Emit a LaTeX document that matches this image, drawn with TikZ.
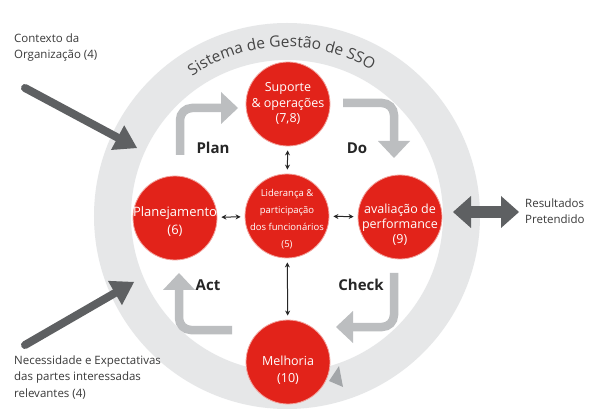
\documentclass[tikz,border=0pt]{standalone}
\usepackage{fontspec}
\setmainfont{Open Sans}
\usetikzlibrary{arrows.meta,decorations.text}
\definecolor{ringgray}{HTML}{E6E7E8}
\definecolor{pdcagray}{HTML}{BCBEC0}
\definecolor{darkarrow}{HTML}{5E6062}
\definecolor{ssored}{HTML}{E2231A}
\definecolor{ssorim}{HTML}{F2A29C}
\definecolor{tipgray}{HTML}{A3A6A9}
\definecolor{txtgray}{HTML}{3A3A3A}
\definecolor{titlegray}{HTML}{454545}
\tikzset{
  redc/.style={circle, fill=ssored, draw=ssorim, line width=0.8pt, minimum size=84pt, inner sep=0pt},
  ctext/.style={text=white, align=center, inner sep=0pt},
  pdca/.style={draw=pdcagray, line width=8.5pt, rounded corners=12pt, -{Triangle[length=17pt,width=32pt,line width=0pt]}},
  pdcalbl/.style={font=\bfseries\fontsize{15}{15}\selectfont, text=black!85, inner sep=0pt},
  bigarrow/.style={draw=darkarrow, line width=8pt, line cap=round, -{Triangle[length=22pt,width=28pt,line width=0pt]}},
  twoway/.style={draw=black!85, line width=1pt, {Stealth[length=5pt,width=5pt]}-{Stealth[length=5pt,width=5pt]}, shorten <=4pt, shorten >=4pt},
  outtext/.style={text=txtgray, align=left, font=\fontsize{11.5}{16.3}\selectfont, inner sep=0pt, anchor=west},
}
\begin{document}
\begin{tikzpicture}[x=1pt,y=1pt]
\useasboundingbox (0,0) rectangle (595,413);
\fill[white] (0,0) rectangle (595,413);
% ring
\draw[ringgray, line width=37pt] (287,197) circle[radius=174.5];
\path[decorate, decoration={text along path, text align=center, text color=titlegray,
  text={|\fontsize{15.5}{15.5}\selectfont|Sistema de Gestão de SSO}}]
  (287,197) ++(152:169) arc[start angle=152, end angle=32, radius=169];
\fill[tipgray] (329,32) -- (339,47) -- (343,26) -- cycle;
% PDCA arrows
\draw[pdca] (180,258) -- (180,305) -- (238,305);
\draw[pdca] (343,310) -- (394,310) -- (394,255);
\draw[pdca] (394,140) -- (394,86) -- (336,86);
\draw[pdca] (232,83) -- (179,83) -- (179,140);
\node[pdcalbl] at (213,265) {Plan};
\node[pdcalbl] at (357,265) {Do};
\node[pdcalbl] at (208,128) {Act};
\node[pdcalbl] at (361,128) {Check};
% outer arrows
\coordinate (ctxs) at (25,325);
\coordinate (ctxe) at (137,265);
\coordinate (necs) at (25,68);
\coordinate (nece) at (134,131);
\coordinate (resL) at (453,201);
\coordinate (resR) at (519,201);
\draw[bigarrow] (ctxs) -- (ctxe);
\draw[bigarrow] (necs) -- (nece);
\draw[draw=darkarrow, line width=12pt, {Triangle[length=18pt,width=32pt,line width=0pt]}-{Triangle[length=18pt,width=32pt,line width=0pt]}] (resL) -- (resR);
% circles
\node[redc] (sup) at (288,309) {};
\node[redc] (lid) at (287,197) {};
\node[redc] (pla) at (175,195) {};
\node[redc] (ava) at (400,196) {};
\node[redc] (mel) at (288,51) {};
\node[ctext, font=\fontsize{12.5}{15.5}\selectfont] at (288,309.5) {Suporte\\\& operações\\(7,8)};
\node[ctext, font=\fontsize{9.5}{17}\selectfont] at (287,194.3) {Liderança \&\\participação\\dos funcionários\\(5)};
\node[ctext, font=\fontsize{13}{18}\selectfont] at (175,191.5) {Planejamento\\(6)};
\node[ctext, font=\fontsize{12.5}{15}\selectfont] at (400,188) {avaliação de\\performance\\(9)};
\node[ctext, font=\fontsize{12.5}{17}\selectfont] at (288,43) {Melhoria\\(10)};
% two-way links
\draw[twoway] (sup) -- (lid);
\draw[twoway] (pla) -- (lid);
\draw[twoway] (lid) -- (ava);
\draw[twoway] (lid) -- (mel);
% outside texts
\node[outtext] at (14,365.5) {Contexto da\\Organização (4)};
\node[outtext] at (14,35.5) {Necessidade e Expectativas\\das partes interessadas\\relevantes (4)};
\node[outtext] at (525,201.5) {Resultados\\Pretendido};
\end{tikzpicture}
\end{document}
